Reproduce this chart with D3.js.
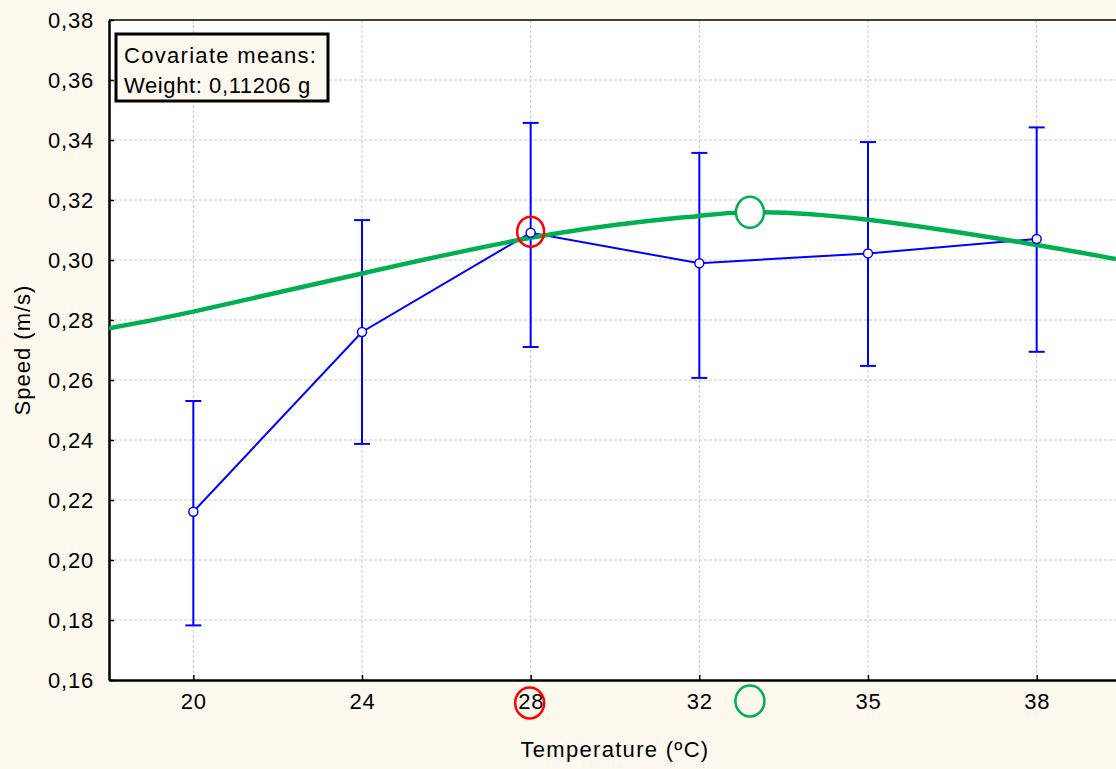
<!DOCTYPE html>
<html>
<head>
<meta charset="utf-8">
<script src="https://cdnjs.cloudflare.com/ajax/libs/d3/7.8.5/d3.min.js"></script>
<style>
  html, body { margin: 0; padding: 0; background: #fef9ee; }
  svg { display: block; font-family: "Liberation Sans", Arial, sans-serif; }
</style>
</head>
<body>
<div id="chart"></div>
<script>
// Data
const temperatures = ["20", "24", "28", "32", "35", "38"];
const speedMeans = [0.2161, 0.2760, 0.3091, 0.2989, 0.3022, 0.3070];
const speedUpper = [0.2530, 0.3133, 0.3457, 0.3357, 0.3393, 0.3442];
const speedLower = [0.1782, 0.2387, 0.2710, 0.2607, 0.2647, 0.2694];

// fitted curve (green), positions in category units
const fitPos = [-0.5, 0, 1, 2, 2.71, 3, 3.3, 4, 5, 5.47];
const fitSpeed = [0.2772, 0.2828, 0.2955, 0.3074, 0.3131, 0.3147, 0.3159, 0.3134, 0.3050, 0.3003];

const yTicks = [0.16, 0.18, 0.20, 0.22, 0.24, 0.26, 0.28, 0.30, 0.32, 0.34, 0.36, 0.38];

// markers: observed best (red) and fitted optimum (green)
const bestIndex = 2;
const optimumPos = 3.3;
const optimumSpeed = 0.3159;

const width = 1116, height = 769;
const margin = { top: 20, right: -5, bottom: 89, left: 109 };
const plotW = width - margin.left - margin.right;
const plotH = height - margin.top - margin.bottom;

const svg = d3.select("#chart")
    .append("svg")
    .attr("width", width)
    .attr("height", height);

const g = svg.append("g")
    .attr("transform", `translate(${margin.left},${margin.top})`);

const x = d3.scaleLinear().domain([-0.5, temperatures.length - 0.5]).range([0, plotW]);
const y = d3.scaleLinear().domain([0.16, 0.38]).range([plotH, 0]);
const fmt = v => d3.format(".2f")(v).replace(".", ",");

// plot background
g.append("rect")
    .attr("width", plotW)
    .attr("height", plotH)
    .attr("fill", "#ffffff");

g.append("clipPath").attr("id", "plotClip")
    .append("rect").attr("width", plotW).attr("height", plotH);

// gridlines
g.selectAll(".hgrid")
    .data(yTicks.slice(1, -1))
    .enter().append("line")
    .attr("x1", 0).attr("x2", plotW)
    .attr("y1", d => y(d)).attr("y2", d => y(d))
    .attr("stroke", "#c8c8c8").attr("stroke-dasharray", "3,2");

g.selectAll(".vgrid")
    .data(temperatures)
    .enter().append("line")
    .attr("x1", (d, i) => x(i)).attr("x2", (d, i) => x(i))
    .attr("y1", 0).attr("y2", plotH)
    .attr("stroke", "#c8c8c8").attr("stroke-dasharray", "3,2");

// axes
const xAxis = g.append("g")
    .attr("transform", `translate(0,${plotH})`)
    .call(d3.axisBottom(x)
        .tickValues(d3.range(temperatures.length))
        .tickFormat(i => temperatures[i])
        .tickSizeInner(-5).tickSizeOuter(0).tickPadding(15));

const yAxis = g.append("g")
    .call(d3.axisLeft(y)
        .tickValues(yTicks)
        .tickFormat(fmt)
        .tickSizeInner(-5).tickSizeOuter(0).tickPadding(15));

[xAxis, yAxis].forEach(ax => {
    ax.attr("font-size", null).attr("font-family", null);
    ax.select(".domain").attr("stroke", "#000").attr("stroke-width", 2.5);
    ax.selectAll(".tick line").attr("stroke", "#000").attr("stroke-width", 1.5);
    ax.selectAll(".tick text")
        .attr("fill", "#000")
        .style("font-size", "22px")
        .style("letter-spacing", "0.8px");
});
xAxis.selectAll(".tick text").attr("dy", "0.62em");
yAxis.selectAll(".tick text").attr("dy", "0.36em");

// top border
g.append("line")
    .attr("x1", 0).attr("x2", plotW)
    .attr("y1", 0).attr("y2", 0)
    .attr("stroke", "#000").attr("stroke-width", 1.5);

const plot = g.append("g").attr("clip-path", "url(#plotClip)");

// error bars
const bars = plot.selectAll(".err")
    .data(temperatures)
    .enter().append("g");

bars.append("line")
    .attr("x1", (d, i) => x(i)).attr("x2", (d, i) => x(i))
    .attr("y1", (d, i) => y(speedUpper[i])).attr("y2", (d, i) => y(speedLower[i]))
    .attr("stroke", "#0000ff").attr("stroke-width", 2);

bars.append("line")
    .attr("x1", (d, i) => x(i) - 8).attr("x2", (d, i) => x(i) + 8)
    .attr("y1", (d, i) => y(speedUpper[i])).attr("y2", (d, i) => y(speedUpper[i]))
    .attr("stroke", "#0000ff").attr("stroke-width", 2);

bars.append("line")
    .attr("x1", (d, i) => x(i) - 8).attr("x2", (d, i) => x(i) + 8)
    .attr("y1", (d, i) => y(speedLower[i])).attr("y2", (d, i) => y(speedLower[i]))
    .attr("stroke", "#0000ff").attr("stroke-width", 2);

// means line
const meanLine = d3.line()
    .x((d, i) => x(i))
    .y(d => y(d));

plot.append("path")
    .datum(speedMeans)
    .attr("d", meanLine)
    .attr("fill", "none")
    .attr("stroke", "#0000ff")
    .attr("stroke-width", 2);

// fitted curve
const fitLine = d3.line()
    .x((d, i) => x(fitPos[i]))
    .y(d => y(d))
    .curve(d3.curveNatural);

plot.append("path")
    .datum(fitSpeed)
    .attr("d", fitLine)
    .attr("fill", "none")
    .attr("stroke", "#00b050")
    .attr("stroke-width", 4.5);

// point markers
plot.selectAll(".pt")
    .data(speedMeans)
    .enter().append("circle")
    .attr("cx", (d, i) => x(i))
    .attr("cy", d => y(d))
    .attr("r", 4.5)
    .attr("fill", "#fff")
    .attr("stroke", "#0000ff")
    .attr("stroke-width", 1.5);

// highlight circles
g.append("ellipse")
    .attr("cx", x(bestIndex)).attr("cy", y(speedMeans[bestIndex]) - 1)
    .attr("rx", 13.5).attr("ry", 15)
    .attr("fill", "none").attr("stroke", "#ff0000").attr("stroke-width", 2.5);

g.append("ellipse")
    .attr("cx", x(bestIndex) - 1).attr("cy", plotH + 23)
    .attr("rx", 14.5).attr("ry", 15.5)
    .attr("fill", "none").attr("stroke", "#ff0000").attr("stroke-width", 2.5);

g.append("ellipse")
    .attr("cx", x(optimumPos)).attr("cy", y(optimumSpeed))
    .attr("rx", 14).attr("ry", 15.5)
    .attr("fill", "#fff").attr("stroke", "#00b050").attr("stroke-width", 2.5);

g.append("ellipse")
    .attr("cx", x(optimumPos)).attr("cy", plotH + 21)
    .attr("rx", 14.5).attr("ry", 15.5)
    .attr("fill", "none").attr("stroke", "#00b050").attr("stroke-width", 2.5);

// covariate box
const box = g.append("g").attr("transform", "translate(7,14)");
box.append("rect")
    .attr("width", 212).attr("height", 67)
    .attr("fill", "#fef9ee")
    .attr("stroke", "#000").attr("stroke-width", 3);
box.append("text")
    .attr("x", 8).attr("y", 29)
    .style("font-size", "22px").style("letter-spacing", "1.3px")
    .text("Covariate means:");
box.append("text")
    .attr("x", 8).attr("y", 59)
    .style("font-size", "22px").style("letter-spacing", "0.6px")
    .text("Weight: 0,11206 g");

// axis titles
svg.append("text")
    .attr("x", margin.left + plotW / 2)
    .attr("y", 757)
    .attr("text-anchor", "middle")
    .style("font-size", "22px").style("letter-spacing", "1.3px")
    .text("Temperature (ºC)");

svg.append("text")
    .attr("transform", `translate(30,${margin.top + plotH / 2}) rotate(-90)`)
    .attr("text-anchor", "middle")
    .style("font-size", "22px").style("letter-spacing", "1px")
    .text("Speed (m/s)");
</script>
</body>
</html>
